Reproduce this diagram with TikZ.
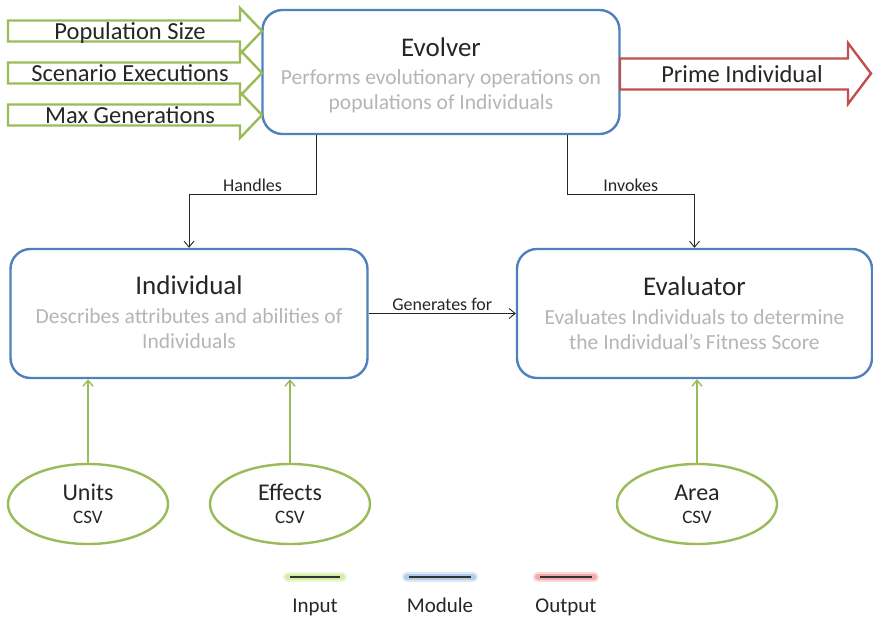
\documentclass[tikz,border=0pt]{standalone}
\usepackage{fontspec}
\setmainfont{Carlito}
\usetikzlibrary{shapes.geometric,arrows.meta}

\definecolor{modblue}{HTML}{4F81BD}
\definecolor{ingreen}{HTML}{9BBB59}
\definecolor{outred}{HTML}{C0504D}
\definecolor{descgray}{HTML}{B5B5B5}
\definecolor{inglow}{HTML}{D3EEA6}
\definecolor{modglow}{HTML}{B3CCEC}
\definecolor{outglow}{HTML}{F5AAAA}

\tikzset{
  module/.style={draw=modblue, line width=2.4pt, rounded corners=20pt, minimum width=357pt, inner sep=0pt},
  modtitle/.style={font=\fontsize{27}{32}\selectfont, text=black!85, anchor=base},
  moddesc/.style={font=\fontsize{21.5}{25}\selectfont, text=descgray, align=center, anchor=base},
  inarrow/.style={draw=ingreen, line width=2.4pt, line join=miter},
  outarrow/.style={draw=outred, line width=2.4pt, line join=miter},
  arrowtext/.style={font=\fontsize{24.5}{28}\selectfont, text=black!85, anchor=base},
  csvfile/.style={ellipse, draw=ingreen, line width=2.4pt, minimum width=160pt, minimum height=80pt,
    inner sep=0pt, align=center, font=\fontsize{24}{23}\selectfont, text=black!85},
  conn/.style={draw=black!85, line width=0.9pt, -{Straight Barb[length=6pt, width=10pt]}},
  feed/.style={draw=ingreen, line width=1.4pt, -{Straight Barb[length=6pt, width=10pt]}},
  connlabel/.style={font=\fontsize{18}{21}\selectfont, text=black!85, inner sep=2pt},
  legtext/.style={font=\fontsize{21}{25}\selectfont, text=black!85, anchor=base}
}

\begin{document}
\begin{tikzpicture}[x=1pt, y=-1pt]
\useasboundingbox (0,0) rectangle (873,617);

% the three modules
\node[module, minimum height=124pt] (evolver) at (441,72) {};
\node[module, minimum height=129pt] (individual) at (189,313.5) {};
\node[module, minimum width=355pt, minimum height=129pt] (evaluator) at (694.5,313.5) {};

% titles, then the descriptions (base = last line)
\node[modtitle] (evolvertitle) at (441,57) {Evolver};
\node[moddesc] (evolverdesc) at (441,110) {Performs evolutionary operations on\\populations of Individuals};
\node[modtitle] (individualtitle) at (189,295) {Individual};
\node[moddesc] (individualdesc) at (189,349) {Describes attributes and abilities of\\Individuals};
\node[modtitle] (evaluatortitle) at (694.5,296) {Evaluator};
\node[moddesc] (evaluatordesc) at (694.5,350) {Evaluates Individuals to determine\\the Individual’s Fitness Score};

% parameters fed into the evolver
\foreach \y/\txt/\nm in {31/Population Size/popsize, 73/Scenario Executions/scenexec, 115/Max Generations/maxgen}{
  \draw[inarrow] (8,\y-10.5) -| (240,\y-23) -- (262,\y) -- (240,\y+23) |- (8,\y+10.5) -- cycle;
  \node[arrowtext] (\nm) at (130,\y+8.5) {\txt};
}

% result
\draw[outarrow] (620,58.5) -| (848,43) -- (871,73.5) -- (848,104) |- (620,89.5) -- cycle;
\node[arrowtext] (prime) at (742,82.5) {Prime Individual};

% module links
\draw[conn] ([xshift=-125pt]evolver.south) -- ++(0,59) -| node[connlabel, pos=0.25, above] {Handles} (individual.north);
\draw[conn] ([xshift=126pt]evolver.south) -- ++(0,59) -| node[connlabel, pos=0.25, above] {Invokes} (evaluator.north);
\draw[conn] (individual.east) -- node[connlabel, above] {Generates for} (evaluator.west);

% csv sources
\node[csvfile] (units) at (88,504) {Units\\{\fontsize{19}{20}\selectfont CSV}};
\node[csvfile] (effects) at (290,504) {Effects\\{\fontsize{19}{20}\selectfont CSV}};
\node[csvfile] (area) at (697,504) {Area\\{\fontsize{19}{20}\selectfont CSV}};

\draw[feed] (units.north) -- (units.north |- individual.south);
\draw[feed] (effects.north) -- (effects.north |- individual.south);
\draw[feed] (area.north) -- (area.north |- evaluator.south);

% legend
\foreach \x/\w/\glow/\txt/\nm in {315/27/inglow/Input/leginput, 440/33/modglow/Module/legmodule, 566/28/outglow/Output/legoutput}{
  \draw[\glow, line width=10pt, line cap=round, opacity=0.45] (\x-\w,577) -- (\x+\w,577);
  \draw[\glow, line width=6pt, line cap=round] (\x-\w,577) -- (\x+\w,577);
  \draw[black!80, line width=1.3pt] (\x-\w+2,577) -- (\x+\w-2,577);
  \node[legtext] (\nm) at (\x,612) {\txt};
}
\end{tikzpicture}
\end{document}
